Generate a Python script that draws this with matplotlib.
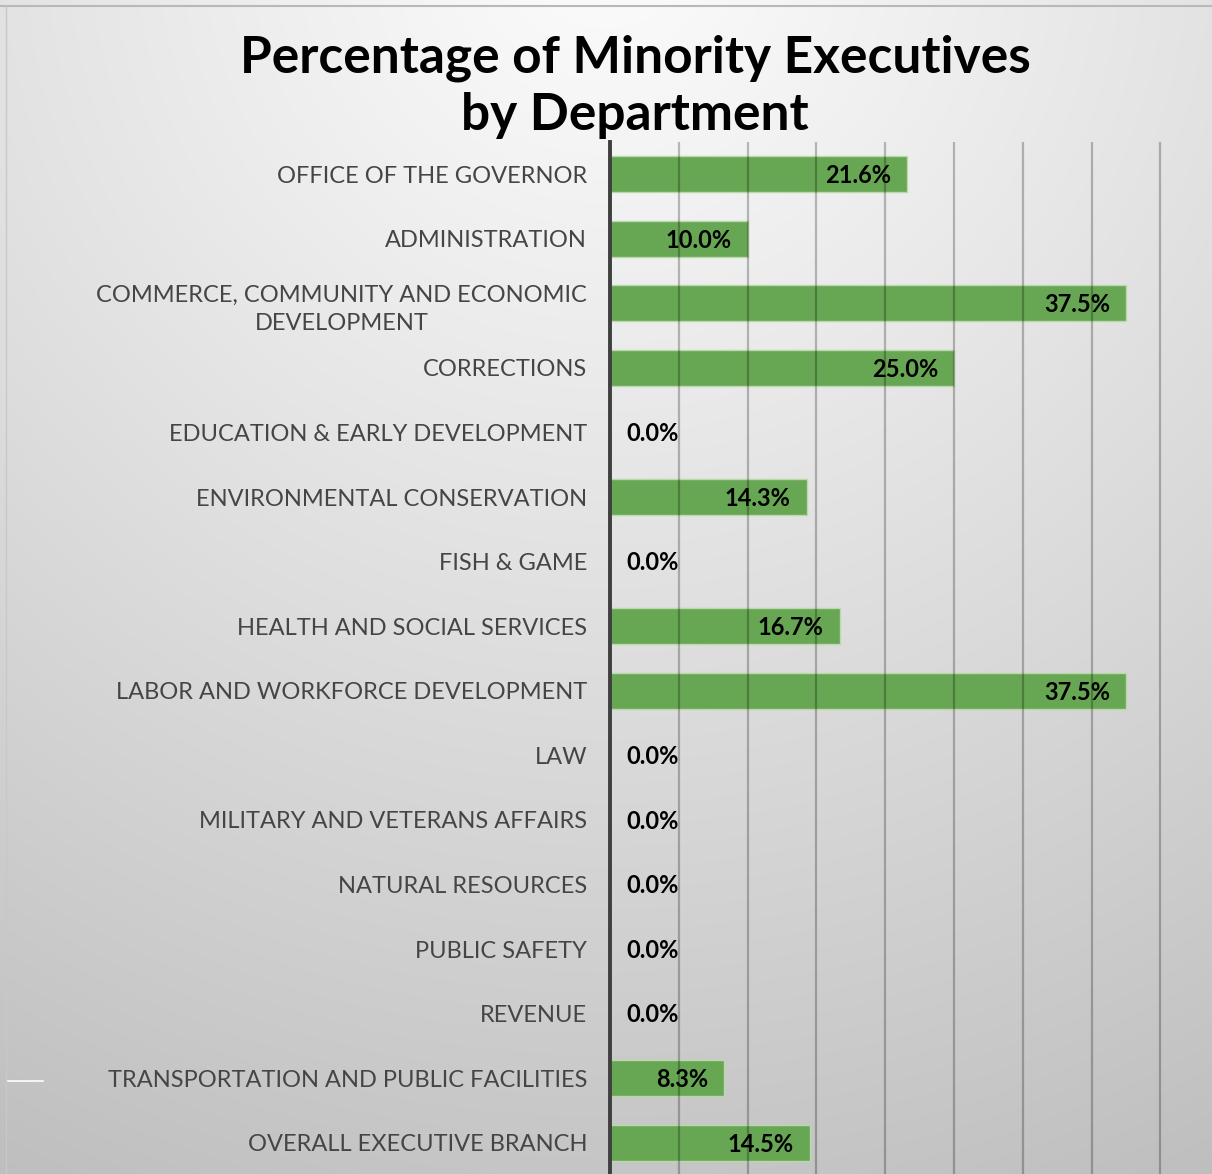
import numpy as np
import matplotlib
matplotlib.use("Agg")
import matplotlib.pyplot as plt
from matplotlib.lines import Line2D

# ---------------- data ----------------
departments = [
    "OFFICE OF THE GOVERNOR",
    "ADMINISTRATION",
    "COMMERCE, COMMUNITY AND ECONOMIC\nDEVELOPMENT",
    "CORRECTIONS",
    "EDUCATION & EARLY DEVELOPMENT",
    "ENVIRONMENTAL CONSERVATION",
    "FISH & GAME",
    "HEALTH AND SOCIAL SERVICES",
    "LABOR AND WORKFORCE DEVELOPMENT",
    "LAW",
    "MILITARY AND VETERANS AFFAIRS",
    "NATURAL RESOURCES",
    "PUBLIC SAFETY",
    "REVENUE",
    "TRANSPORTATION AND PUBLIC FACILITIES",
    "OVERALL EXECUTIVE BRANCH",
]
percentages = [21.6, 10.0, 37.5, 25.0, 0.0, 14.3, 0.0, 16.7, 37.5,
               0.0, 0.0, 0.0, 0.0, 0.0, 8.3, 14.5]
title_lines = ["Percentage of Minority Executives", "by Department"]

W, H = 1212, 1174
fig = plt.figure(figsize=(W / 100, H / 100), dpi=100)

# ---------------- background gradient ----------------
bg = fig.add_axes([0, 0, 1, 1], zorder=-10)
yy, xx = np.mgrid[0:H, 0:W]
d = np.sqrt(((xx - 606) * 1.0) ** 2 + ((yy + 60) * 1.0) ** 2)
v = 252 - 62 * np.clip(d / 1380.0, 0, 1) ** 1.1
img = np.dstack([v, v, v]) / 255.0
bg.imshow(img, extent=[0, W, H, 0], aspect="auto", interpolation="bilinear")
bg.set_xlim(0, W)
bg.set_ylim(H, 0)
bg.axis("off")
bg.add_line(Line2D([0, W], [6, 6], color="#b8b8b8", lw=1.5))
bg.add_line(Line2D([6, 6], [6, H], color="#c8c8c8", lw=1.0))
bg.add_line(Line2D([8, 43], [1081, 1081], color="white", lw=1.2))

# ---------------- main axes ----------------
left = 610 / W
top = 1 - 142 / H
bottom = 1 - 1175 / H
ax = fig.add_axes([left, bottom, 1 - left, top - bottom])
ax.set_facecolor("none")

n = len(departments)
ypos = np.arange(n)
ax.barh(ypos, percentages, height=0.56, color="#67a753",
        edgecolor="#b9d9aa", linewidth=1.0, zorder=3)
ax.set_ylim(n - 0.5, -0.5)
xmax = (W - 610) / 13.76
ax.set_xlim(0, xmax)

for x in np.arange(5, xmax, 5):
    ax.axvline(x, color="black", alpha=0.25, lw=1.6, zorder=4)

for s in ["top", "right", "bottom"]:
    ax.spines[s].set_visible(False)
ax.spines["left"].set_color("#3f3f3f")
ax.spines["left"].set_linewidth(2.8)
ax.spines["left"].set_zorder(5)

ax.set_xticks([])
ax.set_yticks(ypos)
ax.set_yticklabels(departments, fontsize=17, color="#454545",
                   family="Lato", fontweight="normal", linespacing=1.45)
ax.tick_params(axis="y", length=0, pad=16.5)
for lab in ax.get_yticklabels():
    lab.set_horizontalalignment("right")
    lab.set_multialignment("center")

px = 1.0 / 13.76  # one pixel in data units
for y, p in zip(ypos, percentages):
    txt = f"{p:.1f}%"
    if p > 0:
        ax.text(p - 16 * px, y + 0.02, txt, ha="right", va="center",
                fontsize=17, fontweight="bold", color="black",
                family="Lato", zorder=6)
    else:
        ax.text(16 * px, y + 0.02, txt, ha="left", va="center",
                fontsize=17, fontweight="bold", color="black",
                family="Lato", zorder=6)

fig.text(635 / W, 1 - 72 / H, title_lines[0], ha="center", va="baseline",
         fontsize=37, fontweight="bold", color="black", family="Lato")
fig.text(635 / W, 1 - 130 / H, title_lines[1], ha="center", va="baseline",
         fontsize=37, fontweight="bold", color="black", family="Lato")

fig.savefig("out.png", dpi=100)
